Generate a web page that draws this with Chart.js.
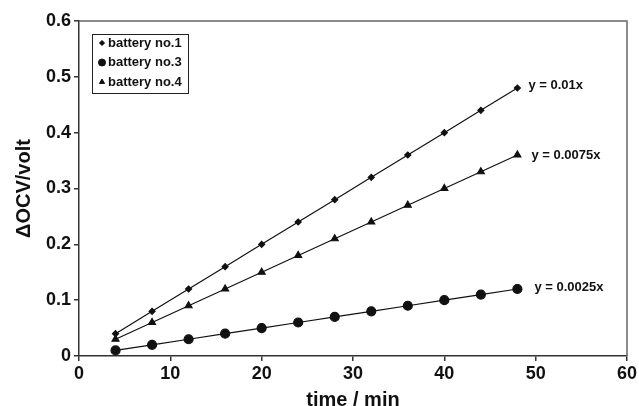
<!DOCTYPE html>
<html>
<head>
<meta charset="utf-8">
<script src="https://cdn.jsdelivr.net/npm/chart.js@4"></script>
<style>
  body { margin: 0; background: #fff; }
  #wrap { width: 639px; height: 406px; position: relative; }
</style>
</head>
<body>
<div id="wrap"><canvas id="ocvChart"></canvas></div>
<script>
// time in minutes
const times = [4, 8, 12, 16, 20, 24, 28, 32, 36, 40, 44, 48];
const battery1 = [0.04, 0.08, 0.12, 0.16, 0.20, 0.24, 0.28, 0.32, 0.36, 0.40, 0.44, 0.48];
const battery3 = [0.01, 0.02, 0.03, 0.04, 0.05, 0.06, 0.07, 0.08, 0.09, 0.10, 0.11, 0.12];
const battery4 = [0.03, 0.06, 0.09, 0.12, 0.15, 0.18, 0.21, 0.24, 0.27, 0.30, 0.33, 0.36];
const seriesNames = ['battery no.1', 'battery no.3', 'battery no.4'];
const fitLabels = ['y = 0.01x', 'y = 0.0025x', 'y = 0.0075x'];
const xTicks = [0, 10, 20, 30, 40, 50, 60];
const yTicks = [0, 0.1, 0.2, 0.3, 0.4, 0.5, 0.6];

const FONT = '"Liberation Sans", Arial, sans-serif';

function pts(ys) { return times.map((t, i) => ({x: t, y: ys[i]})); }

const styles = [
    { pointStyle: 'rectRot', radius: 3 },
    { pointStyle: 'circle', radius: 4.5 },
    { pointStyle: 'triangle', radius: 4 }
];

const datasets = [battery1, battery3, battery4].map((ys, i) => ({
    label: seriesNames[i],
    data: pts(ys),
    borderColor: '#111',
    backgroundColor: '#111',
    borderWidth: 1.2,
    pointStyle: styles[i].pointStyle,
    pointRadius: styles[i].radius,
    pointHoverRadius: styles[i].radius,
    tension: 0
}));

// frame round the plot, fit labels and the boxed legend
const extras = {
    id: 'extras',
    afterDraw(chart) {
        const ctx = chart.ctx, a = chart.chartArea;
        const xs = chart.scales.x, ys = chart.scales.y;
        ctx.save();
        ctx.strokeStyle = '#666';
        ctx.lineWidth = 1.5;
        ctx.beginPath();
        ctx.moveTo(a.left, a.top); ctx.lineTo(a.right, a.top); ctx.lineTo(a.right, a.bottom);
        ctx.stroke();

        // fit equations beside the last point of each series
        ctx.fillStyle = '#111';
        ctx.font = 'bold 13px ' + FONT;
        ctx.textBaseline = 'middle';
        const offs = [[11, -3], [17, -2], [14, 0]];
        chart.data.datasets.forEach((ds, i) => {
            const last = ds.data[ds.data.length - 1];
            ctx.fillText(fitLabels[i], xs.getPixelForValue(last.x) + offs[i][0], ys.getPixelForValue(last.y) + offs[i][1]);
        });

        // legend
        const lx = a.left + 13, ly = a.top + 13, lw = 96, lh = 59;
        ctx.strokeStyle = '#222';
        ctx.lineWidth = 1;
        ctx.strokeRect(lx + 0.5, ly + 0.5, lw, lh);
        ctx.font = 'bold 13px ' + FONT;
        chart.data.datasets.forEach((ds, i) => {
            const cy = ly + 9 + i * 19.5;
            const r = [2.5, 3.5, 3][i];
            Chart.helpers.drawPoint(ctx, { pointStyle: ds.pointStyle, radius: r, borderWidth: 1 }, lx + 10, cy);
            ctx.fill();
            ctx.fillText(ds.label, lx + 16, cy);
        });
        ctx.restore();
    }
};

new Chart(document.getElementById('ocvChart').getContext('2d'), {
    type: 'line',
    data: { datasets },
    options: {
        responsive: true, maintainAspectRatio: false, animation: false,
        layout: { padding: { top: 21, right: 10, left: 0, bottom: 0 } },
        plugins: { legend: { display: false }, tooltip: { enabled: false } },
        scales: {
            x: {
                type: 'linear', min: 0, max: 60,
                afterBuildTicks: s => { s.ticks = xTicks.map(v => ({value: v})); },
                afterFit: s => { s.height = 50; },
                grid: { drawOnChartArea: false, drawTicks: true, tickLength: 5, color: '#333', lineWidth: 1.5 },
                border: { color: '#333', width: 1.5 },
                ticks: { color: '#111', font: { family: FONT, size: 18, weight: 'bold' }, padding: 2, maxRotation: 0 },
                title: { display: true, text: 'time / min', color: '#111', font: { family: FONT, size: 20, weight: 'bold' }, padding: { top: 0, bottom: -6 } }
            },
            y: {
                type: 'linear', min: 0, max: 0.6,
                afterBuildTicks: s => { s.ticks = yTicks.map(v => ({value: v})); },
                afterFit: s => { s.width = 79; },
                grid: { drawOnChartArea: false, drawTicks: true, tickLength: 5, color: '#333', lineWidth: 1.5 },
                border: { color: '#333', width: 1.5 },
                ticks: { color: '#111', font: { family: FONT, size: 18, weight: 'bold' }, padding: 3,
                         callback: v => v === 0 ? '0' : v.toFixed(1) },
                title: { display: true, text: '\u0394OCV/volt', color: '#111', font: { family: FONT, size: 20, weight: 'bold' }, padding: { top: 12, bottom: 0 } }
            }
        }
    },
    plugins: [extras]
});
</script>
</body>
</html>
